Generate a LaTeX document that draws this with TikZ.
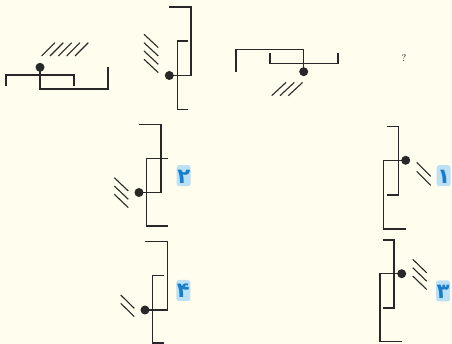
\documentclass[tikz,border=0pt]{standalone}
\usepackage{fontspec}
\newfontfamily\arabicfont[Script=Arabic]{DejaVu Sans}
\definecolor{bg}{RGB}{255,254,238}
\definecolor{ink}{RGB}{40,40,40}
\definecolor{lblfill}{RGB}{188,224,246}
\definecolor{lbltext}{RGB}{25,125,200}
\tikzset{
  pivot/.style={circle, fill=ink, inner sep=0pt, minimum size=9pt},
  link/.style={draw=ink, line width=1.3pt},
  hatch/.style={draw=ink, line width=1.1pt},
  optlabel/.style={rounded corners=2.5pt, fill=lblfill, text=lbltext, inner sep=0pt,
    minimum width=14pt, minimum height=21pt, text height=15pt, text depth=0pt,
    font=\arabicfont\bfseries\fontsize{21}{21}\selectfont}
}
\begin{document}
\begin{tikzpicture}[x=1pt,y=-1pt]
\fill[bg] (0,0) rectangle (452,344);
\useasboundingbox (0,0) rectangle (452,344);

% figure 1
\node[pivot] (p1) at (40,67.3) {};
\draw[link] (6,86) -- (6,75) -- (74,75) -- (74,86);
\draw[link] (p1.center) -- (40,89) -- (108,89) -- (108,67);
\foreach \x in {41.7,50,58.3,66.7,75} \draw[hatch] (\x,56) -- ++(13.3,-13.3);

% figure 2
\node[pivot] (p2) at (169.3,75.5) {};
\draw[link] (169,7) -- (191,7) -- (191,75.5) -- (p2.center);
\draw[link] (188.3,41) -- (177.3,41) -- (177.3,109.3) -- (188.3,109.3);
\foreach \y in {34.3,42.7,51,59.3} \draw[hatch] (144,\y) -- ++(14.3,13.3);

% figure 3
\node[pivot] (p3) at (303.7,71.7) {};
\draw[link] (236,71.7) -- (236,49.3) -- (303.7,49.3) -- (p3.center);
\draw[link] (270,52.7) -- (270,63.7) -- (338,63.7) -- (338,52.7);
\foreach \x in {271.7,280,288.3} \draw[hatch] (\x,95.7) -- ++(14.3,-13.3);

\node (q) at (404,58) {\normalsize ?};

% option 2
\node[pivot] (p4) at (139,192.5) {};
\draw[link] (139,124.3) -- (161,124.3) -- (161,192.5) -- (p4.center);
\draw[link] (168.3,158.7) -- (146.7,158.7) -- (146.7,226) -- (168.3,226);
\foreach \y in {177.7,186,194.3} \draw[hatch] (114.3,\y) -- ++(14,13.3);
\node[optlabel] (l2) at (183.7,175.7) {۲};

% option 1
\node[pivot] (p5) at (405.7,160.3) {};
\draw[link] (386.7,126.7) -- (398.3,126.7) -- (398.3,195) -- (386.7,195);
\draw[link] (p5.center) -- (383.3,160.3) -- (383.3,229) -- (406,229);
\foreach \y in {162.3,171.3} \draw[hatch] (416.7,\y) -- ++(14,14);
\node[optlabel] (l1) at (443.7,175.7) {۱};

% option 4
\node[pivot] (p6) at (145,310) {};
\draw[link] (145,241.7) -- (167.3,241.7) -- (167.3,310) -- (p6.center);
\draw[link] (164,275.7) -- (152.7,275.7) -- (152.7,343) -- (164,343);
\foreach \y in {295,303.3} \draw[hatch] (120.7,\y) -- ++(13.6,13.3);
\node[optlabel] (l4) at (183.3,290.5) {۴};

% option 3
\node[pivot] (p7) at (401.7,273.7) {};
\draw[link] (382.7,240) -- (394,240) -- (394,308) -- (382.7,308);
\draw[link] (p7.center) -- (380,273.7) -- (380,341.7) -- (401.7,341.7);
\foreach \y in {259.3,267.7,276} \draw[hatch] (412.7,\y) -- ++(14,13.5);
\node[optlabel] (l3) at (443,291) {۳};
\end{tikzpicture}
\end{document}
